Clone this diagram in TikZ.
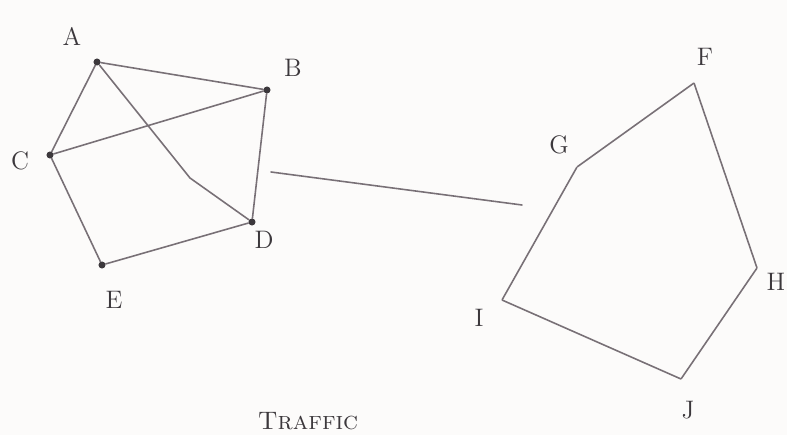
\documentclass[tikz,border=0pt]{standalone}
\usepackage{tikz}
\usepackage{xcolor}
\usetikzlibrary{positioning}
\definecolor{pencil}{RGB}{120,112,118}
\definecolor{lead}{RGB}{60,56,60}
\definecolor{paper}{RGB}{252,251,250}

\begin{document}
\begin{tikzpicture}[
    x=0.02cm,y=-0.02cm,
    vtx/.style={circle,fill=lead,inner sep=0pt,minimum size=4pt},
    pt/.style={inner sep=0pt,minimum size=0pt},
    lbl/.style={font=\Large,text=lead},
    edge/.style={draw=pencil,line width=0.9pt,line cap=round,line join=round}
  ]
    \fill[paper] (0,0) rectangle (787,435);
    \useasboundingbox (0,0) rectangle (787,435);
    % left graph
    \node[vtx] (a) at (97,62) {};
    \node[vtx] (b) at (267,90) {};
    \node[vtx] (c) at (50,155) {};
    \node[vtx] (d) at (252,222) {};
    \node[vtx] (e) at (102,265) {};
    \coordinate (bend) at (190,178);
    \node[lbl] at (72,36) {A};
    \node[lbl] at (293,68) {B};
    \node[lbl] at (20,161) {C};
    \node[lbl] at (264,240) {D};
    \node[lbl] at (114,300) {E};
    \draw[edge] (a) -- (b);
    \draw[edge] (a) -- (c);
    \draw[edge] (a) -- (bend) -- (d);
    \draw[edge] (c) -- (b);
    \draw[edge] (b) -- (d);
    \draw[edge] (c) -- (e);
    \draw[edge] (e) -- (d);
    % link
    \coordinate (l1) at (271,172);
    \coordinate (l2) at (522,205);
    \draw[edge] (l1) -- (l2);
    % right graph
    \node[pt] (g) at (577,167) {};
    \node[pt] (f) at (694,83) {};
    \node[pt] (h) at (757,268) {};
    \node[pt] (j) at (681,379) {};
    \node[pt] (i) at (502,300) {};
    \node[lbl] at (559,145) {G};
    \node[lbl] at (705,57) {F};
    \node[lbl] at (776,282) {H};
    \node[lbl] at (688,410) {J};
    \node[lbl] at (479,318) {I};
    \draw[edge] (g) -- (f);
    \draw[edge] (f) -- (h);
    \draw[edge] (h) -- (j);
    \draw[edge] (j) -- (i);
    \draw[edge] (i) -- (g);
    % caption
    \node[lbl,font=\Large,anchor=base] (cap) at (308,429) {\textsc{Traffic}};
  \end{tikzpicture}
\end{document}
